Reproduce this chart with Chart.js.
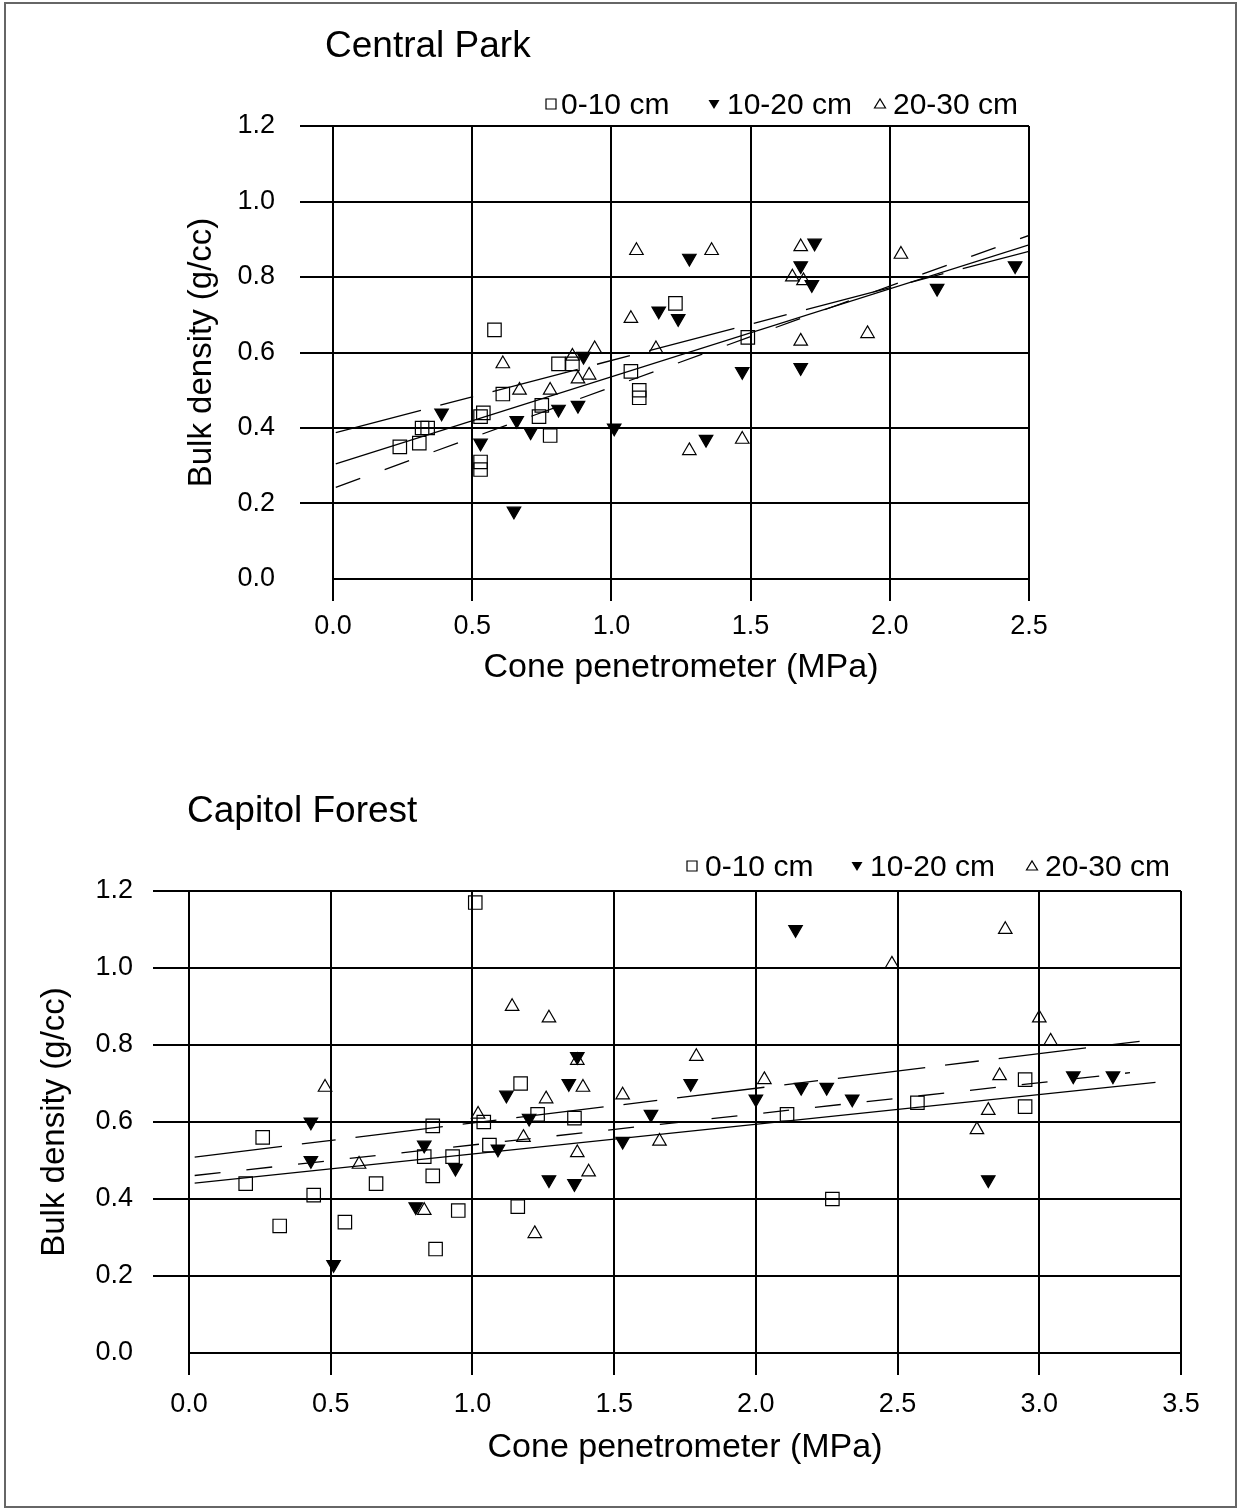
<!DOCTYPE html>
<html>
<head>
<meta charset="utf-8">
<script src="https://cdn.jsdelivr.net/npm/chart.js@4.4.1/dist/chart.umd.min.js"></script>
<style>
html, body { margin: 0; padding: 0; background: #fff; }
#page { position: relative; width: 1238px; height: 1509px; overflow: hidden; }
#frame { position: absolute; left: 4px; top: 2px; width: 1229px; height: 1502px; border: 2px solid #666; }
.panel { position: absolute; left: 0; width: 1238px; }
</style>
</head>
<body>
<div id="page">
  <div id="frame"></div>
  <div class="panel" style="top:0;height:740px"><canvas id="cp"></canvas></div>
  <div class="panel" style="top:740px;height:769px"><canvas id="cf"></canvas></div>
</div>
<script>
const FONT = "'Liberation Sans', Arial, Helvetica, sans-serif";

const depthLabels = ['0-10 cm', '10-20 cm', '20-30 cm'];
const yTicks = [0, 0.2, 0.4, 0.6, 0.8, 1.0, 1.2];
const cpTicksX = [0, 0.5, 1.0, 1.5, 2.0, 2.5];
const cfTicksX = [0, 0.5, 1.0, 1.5, 2.0, 2.5, 3.0, 3.5];

// Central Park  [cone MPa, bulk density g/cc]
const cp010 = [[0.24,0.35],[0.31,0.36],[0.32,0.40],[0.34,0.40],[0.53,0.31],[0.53,0.29],[0.53,0.43],
  [0.54,0.44],[0.58,0.66],[0.61,0.49],[0.74,0.43],[0.75,0.46],[0.78,0.38],[0.81,0.57],[0.86,0.57],
  [1.07,0.55],[1.10,0.50],[1.10,0.48],[1.23,0.73],[1.49,0.64]];
const cp1020 = [[0.39,0.44],[0.53,0.36],[0.65,0.18],[0.66,0.42],[0.71,0.39],[0.81,0.45],[0.88,0.46],
  [0.90,0.59],[1.01,0.40],[1.17,0.71],[1.24,0.69],[1.28,0.85],[1.34,0.37],[1.47,0.55],[1.68,0.56],
  [1.68,0.83],[1.72,0.78],[1.73,0.89],[2.17,0.77],[2.45,0.83]];
const cp2030 = [[0.61,0.57],[0.67,0.50],[0.78,0.50],[0.86,0.59],[0.88,0.53],[0.92,0.54],[0.94,0.61],
  [1.07,0.69],[1.09,0.87],[1.16,0.61],[1.28,0.34],[1.36,0.87],[1.47,0.37],[1.65,0.80],[1.68,0.88],
  [1.68,0.63],[1.69,0.79],[1.92,0.65],[2.04,0.86]];
// fitted lines, end points
const cpFitSolid = [[0.01,0.305],[2.5,0.885]];
const cpFitLong = [[0.01,0.388],[2.5,0.868]];
const cpFitShort = [[0.01,0.243],[2.5,0.91]];

// Capitol Forest
const cf010 = [[0.20,0.44],[0.26,0.56],[0.32,0.33],[0.44,0.41],[0.55,0.34],[0.66,0.44],[0.83,0.51],
  [0.86,0.59],[0.86,0.46],[0.87,0.27],[0.93,0.51],[0.95,0.37],[1.01,1.17],[1.04,0.60],[1.06,0.54],
  [1.16,0.38],[1.17,0.70],[1.23,0.62],[1.36,0.61],[2.11,0.62],[2.27,0.40],[2.57,0.65],[2.95,0.71],
  [2.95,0.64]];
const cf1020 = [[0.43,0.60],[0.43,0.50],[0.51,0.23],[0.80,0.38],[0.83,0.54],[0.94,0.48],[1.09,0.53],
  [1.12,0.67],[1.20,0.61],[1.27,0.45],[1.34,0.70],[1.36,0.44],[1.37,0.77],[1.53,0.55],[1.63,0.62],
  [1.77,0.70],[2.00,0.66],[2.14,1.10],[2.16,0.69],[2.25,0.69],[2.34,0.66],[2.82,0.45],[3.12,0.72],
  [3.26,0.72]];
const cf2030 = [[0.48,0.69],[0.60,0.49],[0.83,0.37],[1.02,0.62],[1.14,0.90],[1.18,0.56],[1.22,0.31],
  [1.26,0.66],[1.27,0.87],[1.37,0.76],[1.37,0.52],[1.39,0.69],[1.41,0.47],[1.53,0.67],[1.66,0.55],
  [1.79,0.77],[2.03,0.71],[2.48,1.01],[2.78,0.58],[2.82,0.63],[2.86,0.72],[2.88,1.10],[3.00,0.87],
  [3.04,0.81]];
const cfFitSolid = [[0.02,0.441],[3.41,0.703]];
const cfFitLong = [[0.02,0.509],[3.37,0.811]];
const cfFitShort = [[0.02,0.461],[3.32,0.728]];

const toXY = arr => arr.map(p => ({ x: p[0], y: p[1] }));

function pointSet(label, data, style, radius, rotation, fillColor) {
  return {
    type: 'scatter', label: label, data: toXY(data),
    pointStyle: style, pointRadius: radius, pointRotation: rotation,
    pointBorderWidth: 1.2, pointBorderColor: '#000', pointBackgroundColor: fillColor,
    borderColor: '#000', backgroundColor: fillColor, showLine: false
  };
}

function fitLine(data, dash) {
  return {
    type: 'line', label: 'fit', data: toXY(data), borderColor: '#000', borderWidth: 1.3,
    borderDash: dash, pointRadius: 0, fill: false, tension: 0
  };
}

// small legend glyphs, same shapes as the markers
function legendMark(ctx, i, cx, cy) {
  ctx.lineWidth = 1.2;
  ctx.beginPath();
  if (i === 0) {
    ctx.rect(cx - 5, cy - 5, 10, 10);
    ctx.stroke();
  } else if (i === 1) {
    ctx.moveTo(cx - 5.5, cy - 4); ctx.lineTo(cx + 5.5, cy - 4); ctx.lineTo(cx, cy + 5); ctx.closePath();
    ctx.fill();
  } else {
    ctx.moveTo(cx - 5.5, cy + 4); ctx.lineTo(cx + 5.5, cy + 4); ctx.lineTo(cx, cy - 5); ctx.closePath();
    ctx.stroke();
  }
}

function panelText(t) {
  return {
    id: 'panelText',
    afterDraw(chart) {
      const ctx = chart.ctx;
      ctx.save();
      ctx.fillStyle = '#000';
      ctx.strokeStyle = '#000';
      ctx.textBaseline = 'alphabetic';
      ctx.textAlign = 'left';
      ctx.font = '37px ' + FONT;
      ctx.fillText(t.title, t.titleX, t.titleY);
      ctx.font = '30px ' + FONT;
      t.legend.forEach((item, i) => {
        legendMark(ctx, i, item[0], t.legendY - 10);
        ctx.fillText(depthLabels[i], item[1], t.legendY);
      });
      ctx.restore();
    }
  };
}

function makeChart(id, g) {
  return new Chart(document.getElementById(id), {
    type: 'scatter',
    data: {
      datasets: [
        fitLine(g.fits[0], []),
        fitLine(g.fits[1], [88, 20, 34, 20]),
        fitLine(g.fits[2], [26, 26]),
        pointSet(depthLabels[0], g.sets[0], 'rect', 9.5, 0, 'rgba(0,0,0,0)'),
        pointSet(depthLabels[1], g.sets[1], 'triangle', 7.8, 180, '#000'),
        pointSet(depthLabels[2], g.sets[2], 'triangle', 7.8, 0, 'rgba(0,0,0,0)')
      ]
    },
    options: {
      responsive: true,
      maintainAspectRatio: false,
      animation: false,
      events: [],
      layout: { padding: g.padding },
      plugins: { legend: { display: false }, title: { display: false }, tooltip: { enabled: false } },
      scales: {
        x: {
          type: 'linear', min: 0, max: g.xTicks[g.xTicks.length - 1],
          afterBuildTicks: s => { s.ticks = g.xTicks.map(v => ({ value: v })); },
          afterFit: s => { s.height = g.xAxisH; },
          ticks: { callback: v => v.toFixed(1), font: { family: FONT, size: 27 }, color: '#000',
                   padding: g.xTickPad, maxRotation: 0, autoSkip: false },
          grid: { color: '#000', lineWidth: 2, tickLength: 22, tickColor: '#000' },
          border: { color: '#000', width: 2 },
          title: { display: true, text: 'Cone penetrometer (MPa)', color: '#000',
                   font: { family: FONT, size: 34 }, padding: { top: 4, bottom: 4 } }
        },
        y: {
          type: 'linear', min: 0, max: 1.2,
          afterBuildTicks: s => { s.ticks = yTicks.map(v => ({ value: v })); },
          afterFit: s => { s.width = g.yAxisW; },
          ticks: { callback: v => v.toFixed(1), font: { family: FONT, size: 27 }, color: '#000',
                   padding: g.yTickPad },
          grid: { color: '#000', lineWidth: 2, tickLength: g.yTickLen,
                  tickColor: c => (c.tick && c.tick.value === 0) ? 'rgba(0,0,0,0)' : '#000' },
          border: { color: '#000', width: 2 },
          title: { display: true, text: 'Bulk density (g/cc)', color: '#000',
                   font: { family: FONT, size: 33 }, padding: { top: 4, bottom: 4 } }
        }
      }
    },
    plugins: [panelText(g.text)]
  });
}

makeChart('cp', {
  sets: [cp010, cp1020, cp2030],
  fits: [cpFitSolid, cpFitLong, cpFitShort],
  xTicks: cpTicksX,
  padding: { left: 178, right: 209, top: 126, bottom: 48.4 },
  yAxisW: 155, xAxisH: 112.6, xTickPad: 9, yTickPad: 25, yTickLen: 33,
  text: { title: 'Central Park', titleX: 325, titleY: 57, legendY: 114,
          legend: [[551, 561], [714, 727], [880, 893]] }
});

makeChart('cf', {
  sets: [cf010, cf1020, cf2030],
  fits: [cfFitSolid, cfFitLong, cfFitShort],
  xTicks: cfTicksX,
  padding: { left: 31, right: 57, top: 151, bottom: 36.6 },
  yAxisW: 158, xAxisH: 119.4, xTickPad: 13, yTickPad: 20, yTickLen: 36,
  text: { title: 'Capitol Forest', titleX: 187, titleY: 82, legendY: 136,
          legend: [[692, 705], [857, 870], [1032, 1045]] }
});
</script>
</body>
</html>
